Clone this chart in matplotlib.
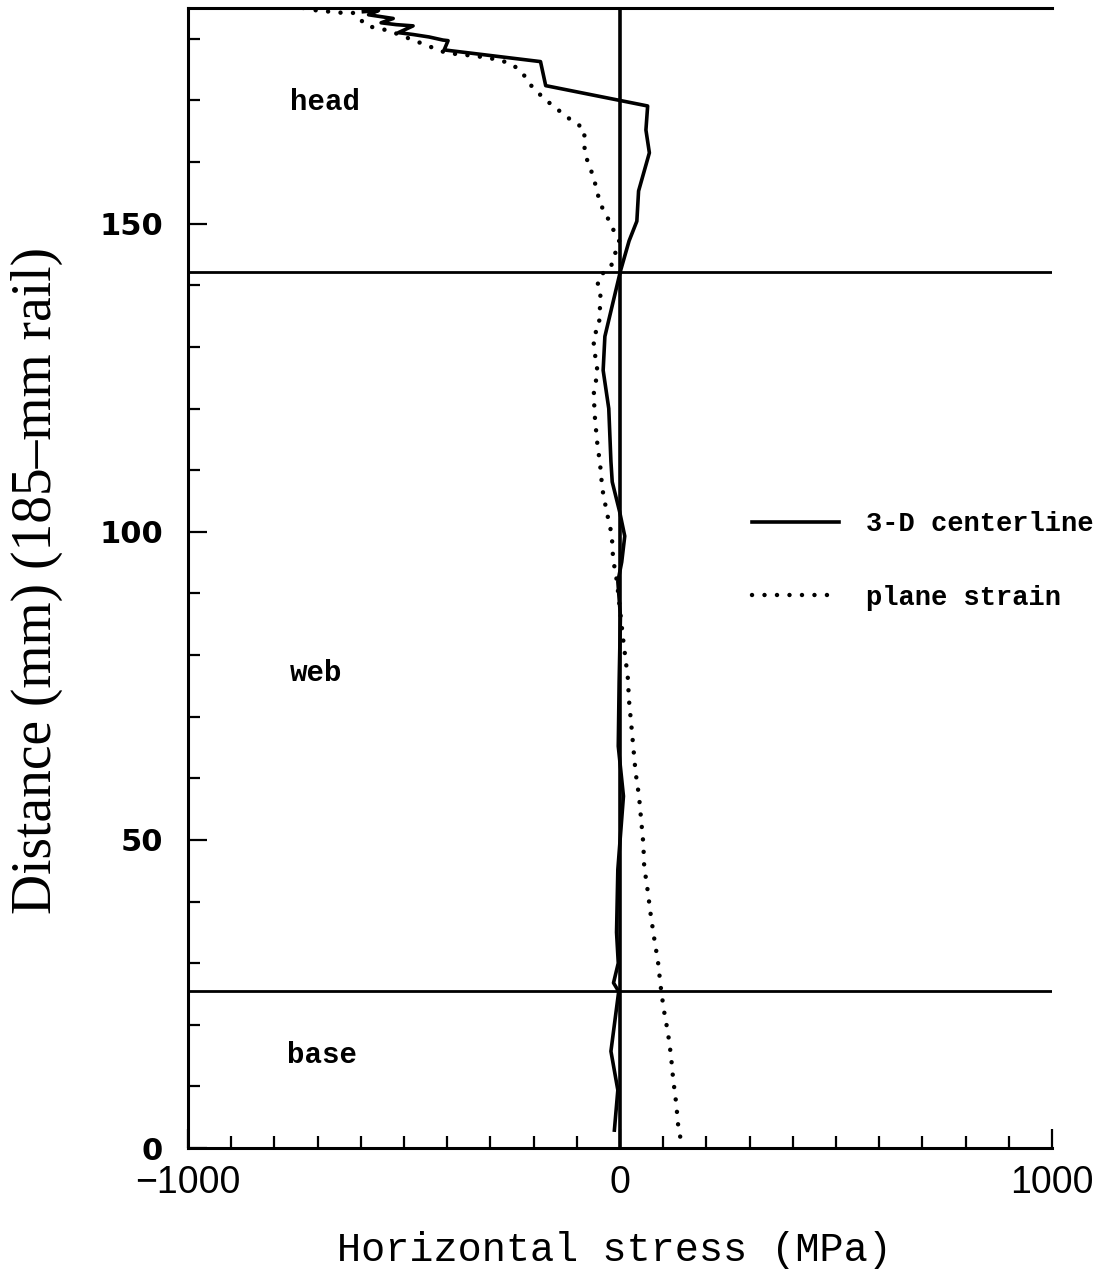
import matplotlib
matplotlib.use("Agg")
import matplotlib.pyplot as plt
from matplotlib.ticker import FixedLocator

# ---- data ----
centerline_y = [184.4, 184.6, 183.9, 183.3, 182.6, 182.3, 182.1, 181.0, 180.7, 180.3,
                179.8, 179.7, 178.2, 176.3, 172.4, 169.1, 165.2, 161.5, 155.3, 150.4,
                147.2, 142.3, 131.7, 126.2, 120.0, 111.4, 108.1, 103.3, 99.3, 95.1,
                91.9, 86.3, 75.6, 65.2, 57.1, 45.2, 35.0, 30.0, 26.8, 25.4,
                15.7, 9.4, 2.9]
centerline_x = [-594, -559, -582, -525, -553, -518, -479, -513, -479, -442,
                -410, -398, -407, -184, -172, 64, 60, 68, 43, 39,
                21, 1, -35, -39, -26, -21, -18, -1, 11, 4,
                -5, 1, -2, -4, 8, -5, -8, -4, -15, -3,
                -21, -5, -13]

plane_y = [185.0, 184.6, 184.2, 184.2, 182.1, 181.7, 181.3, 177.7, 177.2, 176.6,
           175.8, 174.3, 172.8, 171.5, 170.1, 168.9, 167.6, 166.5, 165.4, 163.4,
           161.6, 159.7, 157.9, 156.1, 154.1, 152.4, 150.6, 148.8, 147.2, 142.8,
           141.6, 140.0, 138.2, 133.0, 131.9, 129.8, 126.0, 122.3, 118.5, 114.6,
           110.9, 107.0, 103.3, 99.5, 95.6, 91.9, 89.9, 82.1, 76.4, 72.5,
           68.8, 64.9, 61.0, 57.1, 53.2, 49.4, 45.7, 41.8, 37.9, 34.1,
           30.2, 26.3, 22.6, 18.7, 15.0, 11.2, 7.3, 3.4, 1.6]
plane_x = [-733, -702, -640, -615, -587, -559, -534, -402, -333, -280,
           -248, -224, -211, -193, -173, -150, -129, -106, -83, -82,
           -82, -73, -63, -56, -49, -40, -26, -14, -2, -22,
           -47, -52, -45, -49, -62, -60, -52, -61, -58, -53,
           -46, -41, -31, -19, -16, -7, -4, 8, 18, 21,
           26, 31, 36, 44, 49, 54, 56, 64, 71, 79,
           88, 94, 101, 111, 118, 123, 130, 135, 140]

region_bounds = [25.5, 142.2]
region_names = ["head", "web", "base"]
region_label_x = [-684, -703, -690]
region_label_y = [169.8, 77.1, 15.1]

x_major = [-1000, 0, 1000]
x_major_labels = ["\u22121000", "0", "1000"]
x_minor = [-900, -800, -700, -600, -500, -400, -300, -200, -100,
           100, 200, 300, 400, 500, 600, 700, 800, 900]
y_major = [0, 50, 100, 150]
y_major_labels = ["0", "50", "100", "150"]
y_minor = [10, 20, 30, 40, 60, 70, 80, 90, 110, 120, 130, 140, 160, 170, 180]

# ---- figure ----
fig = plt.figure(figsize=(11.08, 12.8), dpi=100)
W, H = 1108.0, 1280.0
ax = fig.add_axes([188 / W, 1 - 1148 / H, (1052 - 188) / W, (1148 - 8) / H])
ax.set_xlim(-1000, 1000)
ax.set_ylim(0, 185)

ax.plot(centerline_x, centerline_y, color="black", lw=2.6,
        solid_joinstyle="round", label="3-D centerline")
ax.plot(plane_x, plane_y, color="black", lw=3.2, linestyle=(0, (0.01, 2.8)),
        dash_capstyle="round", label="plane strain")

for b in region_bounds:
    ax.axhline(b, color="black", lw=2.0)
ax.axvline(0, color="black", lw=2.6)

for name, tx, ty in zip(region_names, region_label_x, region_label_y):
    ax.text(tx, ty, name, family="Liberation Mono", weight="bold", fontsize=21,
            ha="center", va="center")

# spines
for s in ["left", "bottom", "top"]:
    ax.spines[s].set_linewidth(2.2)
ax.spines["right"].set_visible(False)

# ticks
ax.set_xticks(x_major, labels=x_major_labels, fontfamily="Liberation Sans", fontsize=27)
ax.xaxis.set_minor_locator(FixedLocator(x_minor))
ax.set_yticks(y_major, labels=y_major_labels, fontfamily="DejaVu Sans",
              fontweight="bold", fontsize=22)
ax.yaxis.set_minor_locator(FixedLocator(y_minor))
ax.tick_params(which="both", direction="in", width=1.6, top=False, right=False)
ax.tick_params(which="major", length=14)
ax.tick_params(which="minor", length=8.5)
ax.tick_params(axis="x", which="major", pad=12)
ax.tick_params(axis="y", which="major", pad=18)

# axis labels
ax.set_xlabel("Horizontal stress (MPa)", family="Liberation Mono", fontsize=29,
              va="center", ha="center")
ax.xaxis.set_label_coords(0.494, (1148 - 1250) / 1140)
ax.set_ylabel("Distance (mm) (185\u2013mm rail)", family="Liberation Serif",
              fontsize=40, va="center", ha="center", rotation=90)
ax.yaxis.set_label_coords((37 - 188) / 864, (1148 - 580) / 1140)

# legend
leg = ax.legend(loc="center left", bbox_to_anchor=(752 / W, 1 - 561 / H),
                bbox_transform=fig.transFigure, frameon=False,
                prop={"family": "Liberation Mono", "weight": "bold", "size": 19.5},
                handlelength=3.2, handletextpad=1.0, labelspacing=1.75,
                borderpad=0, borderaxespad=0)

fig.savefig("out.png", dpi=100, facecolor="white")
